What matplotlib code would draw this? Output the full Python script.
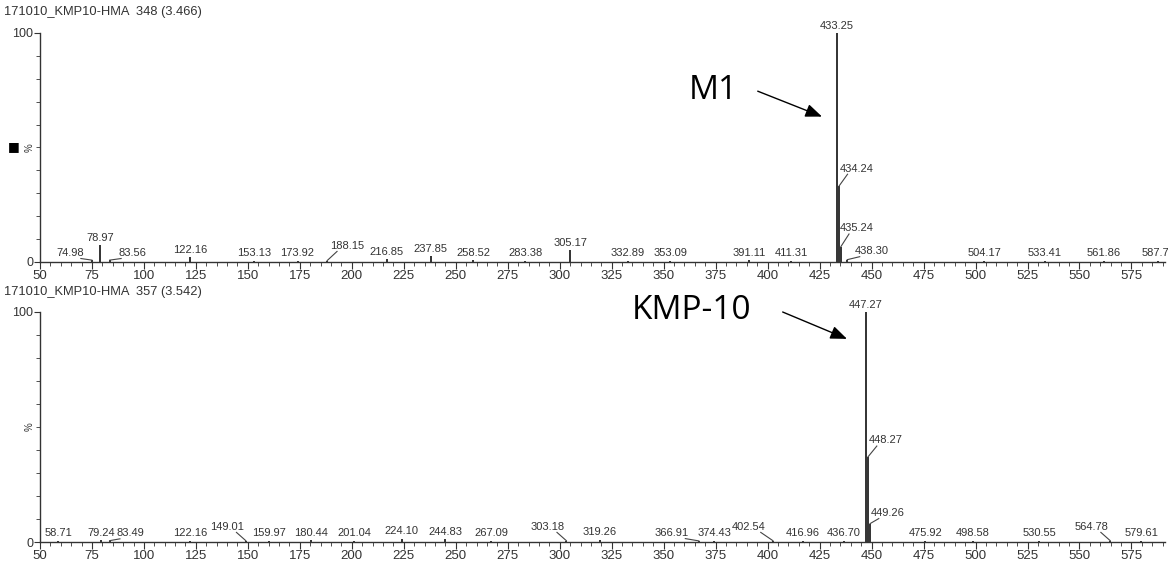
import matplotlib.pyplot as plt
from matplotlib.ticker import MultipleLocator

plt.rcParams["font.family"] = ["Liberation Sans", "DejaVu Sans"]

# spectrum 1: M1, scan 348
top_title = "171010_KMP10-HMA  348 (3.466)"
top_mz = [74.98, 78.97, 83.56, 122.16, 153.13, 173.92, 188.15, 216.85, 237.85,
          258.52, 283.38, 305.17, 332.89, 353.09, 391.11, 411.31, 433.25,
          434.24, 435.24, 438.30, 504.17, 533.41, 561.86, 587.79]
top_int = [0.8, 7.3, 0.8, 2.2, 0.6, 0.6, 0.6, 1.2, 2.6,
           0.8, 0.6, 5.2, 0.6, 0.6, 0.8, 0.6, 100,
           33, 6.7, 1.0, 0.5, 0.5, 0.6, 0.6]
top_labels = ["74.98", "78.97", "83.56", "122.16", "153.13", "173.92", "188.15",
              "216.85", "237.85", "258.52", "283.38", "305.17", "332.89",
              "353.09", "391.11", "411.31", "433.25", "434.24", "435.24",
              "438.30", "504.17", "533.41", "561.86", "587.79"]

# spectrum 2: KMP-10, scan 357
bot_title = "171010_KMP10-HMA  357 (3.542)"
bot_mz = [58.71, 79.24, 83.49, 122.16, 149.01, 159.97, 180.44, 201.04, 224.10,
          244.83, 267.09, 303.18, 319.26, 366.91, 374.43, 402.54, 416.96,
          436.70, 447.27, 448.27, 449.26, 475.92, 498.58, 530.55, 564.78, 579.61]
bot_int = [0.5, 0.8, 0.6, 0.6, 0.6, 0.5, 0.8, 0.4, 1.5,
           1.2, 0.5, 0.6, 1.0, 0.5, 0.5, 0.6, 0.4,
           0.4, 100, 37, 8, 0.4, 0.4, 0.4, 0.6, 0.5]
bot_labels = ["58.71", "79.24", "83.49", "122.16", "149.01", "159.97", "180.44",
              "201.04", "224.10", "244.83", "267.09", "303.18", "319.26",
              "366.91", "374.43", "402.54", "416.96", "436.70", "447.27",
              "448.27", "449.26", "475.92", "498.58", "530.55", "564.78", "579.61"]

# label placement (layout only): horizontal shift in m/z, explicit text height in %
top_dx = {"74.98": -10.6, "83.56": 11, "188.15": 9.5, "434.24": 8.4,
          "435.24": 7.8, "438.30": 12}
top_ly = {"188.15": 4.9, "434.24": 38.6, "435.24": 12.5, "438.30": 2.6}
bot_dx = {"83.49": 10, "149.01": -9, "303.18": -9, "366.91": -13,
          "402.54": -11.7, "448.27": 8.5, "449.26": 8.4, "564.78": -9}
bot_ly = {"149.01": 4.5, "303.18": 4.5, "402.54": 4.5, "564.78": 4.5,
          "448.27": 42, "449.26": 10.5, "366.91": 1.8}

fig = plt.figure(figsize=(11.68, 5.67), dpi=100)
ax1 = fig.add_axes([0.0342, 0.538, 0.963, 0.404])
ax2 = fig.add_axes([0.0342, 0.044, 0.963, 0.406])

txt = "#333333"


def draw(ax, mz, inten, labels, dx, ly, title, title_y):
    ax.vlines(mz, 0, inten, color="#222222", lw=1.3)
    for x, y, lab in zip(mz, inten, labels):
        lx = x + dx.get(lab, 0)
        ty = ly.get(lab, max(y + 1.0, 1.7))
        ax.text(lx, ty, lab, ha="center", va="bottom", fontsize=8, color=txt)
        if lab in dx:
            ax.plot([x, x + dx[lab] * 0.5], [y, ty - 0.3], color="#444444", lw=0.8)
    ax.set_xlim(50, 591)
    ax.set_ylim(0, 100)
    ax.spines["top"].set_visible(False)
    ax.spines["right"].set_visible(False)
    for s in ("left", "bottom"):
        ax.spines[s].set_color("#333333")
        ax.spines[s].set_linewidth(1.0)
    ax.set_xticks(range(50, 576, 25))
    ax.xaxis.set_minor_locator(MultipleLocator(5))
    ax.set_yticks([0, 100])
    ax.yaxis.set_minor_locator(MultipleLocator(10))
    ax.tick_params(axis="x", which="major", length=5, labelsize=9.5,
                   colors="#333333", pad=1)
    ax.tick_params(axis="x", which="minor", length=3, color="#333333")
    ax.tick_params(axis="y", which="major", length=4, labelsize=9,
                   colors="#333333", pad=1)
    ax.tick_params(axis="y", which="minor", length=3, color="#333333")
    ax.set_ylabel("%", fontsize=7, color=txt)
    ax.yaxis.set_label_coords(-0.005, 0.5)
    fig.text(0.003, title_y, title, fontsize=9.3, color=txt, va="center")


draw(ax1, top_mz, top_int, top_labels, top_dx, top_ly, top_title, 0.979)
draw(ax2, bot_mz, bot_int, bot_labels, bot_dx, bot_ly, bot_title, 0.485)

# selection marker next to the top % label
fig.text(0.0115, 0.741, "■", fontsize=9, color="black", va="center", ha="center",
         family="DejaVu Sans")

# compound callouts
arrow = dict(arrowstyle="-|>,head_length=1.0,head_width=0.4", color="black", lw=1)
ax1.annotate("", xy=(427.4, 63), xytext=(394, 75), arrowprops=arrow,
             annotation_clip=False)
ax1.text(374, 75, "M1", fontsize=24, family="Open Sans", ha="center",
         va="center", color="black")
ax2.annotate("", xy=(439.4, 87.8), xytext=(406, 100.4), arrowprops=arrow,
             annotation_clip=False)
ax2.text(363.5, 100.4, "KMP-10", fontsize=24, family="Open Sans", ha="center",
         va="center", color="black")

fig.savefig("out.png", dpi=100)
